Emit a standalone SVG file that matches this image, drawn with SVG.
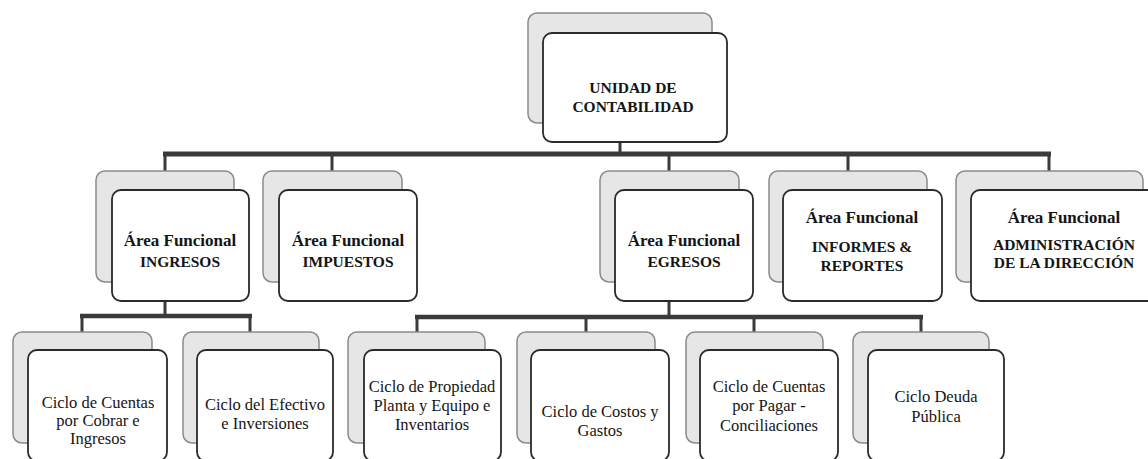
<svg xmlns="http://www.w3.org/2000/svg" width="1148" height="459" viewBox="0 0 1148 459">
<style>
.back{fill:#e6e6e6;stroke:#8a8a8a;stroke-width:1.5}
.front{fill:#ffffff;stroke:#2a2a2a;stroke-width:1.8}
.bar{fill:none;stroke:#3a3a3a;stroke-linecap:butt}
.t1{font-family:"Liberation Serif","Times New Roman",serif;font-weight:bold;font-size:15.5px;fill:#151515;text-anchor:middle}
.t2{font-family:"Liberation Serif","Times New Roman",serif;font-weight:bold;font-size:17px;fill:#151515;text-anchor:middle}
.t3{font-family:"Liberation Serif","Times New Roman",serif;font-size:16.5px;fill:#151515;text-anchor:middle}
</style>
<rect width="1148" height="459" fill="#ffffff"/>
<g id="connectors">
<path class="bar" stroke-width="3" d="M620,142V154M165,154V171M332,154V171M669,154V171M848,154V171M1049,154V171"/>
<path class="bar" stroke-width="5" d="M163,154H1051"/>
<path class="bar" stroke-width="3" d="M165,301V316M82,316V332M250,316V332"/>
<path class="bar" stroke-width="4.5" d="M80,316H252"/>
<path class="bar" stroke-width="3" d="M669,301V317M417,317V333M586,317V333M754,317V333M921,317V333"/>
<path class="bar" stroke-width="4.5" d="M415,317H923"/>
</g>
<g id="unidad">
<rect class="back" x="528" y="13" width="184" height="110" rx="9"/>
<rect class="front" x="543" y="33" width="184" height="109" rx="9"/>
<text class="t1" x="633" y="93">UNIDAD  DE</text>
<text class="t1" x="633" y="112">CONTABILIDAD</text>
</g>
<g id="ingresos">
<rect class="back" x="96" y="171" width="138" height="111" rx="9"/>
<rect class="front" x="112" y="190" width="137" height="111" rx="9"/>
<text class="t2" x="180" y="246">Área Funcional</text>
<text class="t1" x="180" y="267">INGRESOS</text>
</g>
<g id="impuestos">
<rect class="back" x="263" y="171" width="139" height="111" rx="9"/>
<rect class="front" x="279" y="190" width="138" height="111" rx="9"/>
<text class="t2" x="348" y="246">Área Funcional</text>
<text class="t1" x="348" y="267">IMPUESTOS</text>
</g>
<g id="egresos">
<rect class="back" x="600" y="171" width="139" height="111" rx="9"/>
<rect class="front" x="615" y="190" width="138" height="111" rx="9"/>
<text class="t2" x="684" y="246">Área Funcional</text>
<text class="t1" x="684" y="267">EGRESOS</text>
</g>
<g id="informes">
<rect class="back" x="769" y="171" width="158" height="111" rx="9"/>
<rect class="front" x="783" y="190" width="159" height="111" rx="9"/>
<text class="t2" x="862" y="223">Área Funcional</text>
<text class="t1" x="862" y="252">INFORMES &amp;</text>
<text class="t1" x="862" y="271">REPORTES</text>
</g>
<g id="administracion">
<rect class="back" x="956" y="171" width="187" height="111" rx="9"/>
<rect class="front" x="971" y="190" width="187" height="111" rx="9"/>
<text class="t2" x="1064" y="223">Área Funcional</text>
<text class="t1" x="1064" y="250">ADMINISTRACIÓN</text>
<text class="t1" x="1064" y="268">DE LA DIRECCIÓN</text>
</g>
<g id="ciclo-cobrar">
<rect class="back" x="13" y="332" width="139" height="111" rx="9"/>
<rect class="front" x="28" y="350" width="139" height="111" rx="9"/>
<text class="t3" x="98" y="408">Ciclo de Cuentas</text>
<text class="t3" x="98" y="426">por Cobrar e</text>
<text class="t3" x="98" y="444">Ingresos</text>
</g>
<g id="ciclo-efectivo">
<rect class="back" x="183" y="332" width="136" height="111" rx="9"/>
<rect class="front" x="197" y="350" width="136" height="111" rx="9"/>
<text class="t3" x="265" y="410">Ciclo del Efectivo</text>
<text class="t3" x="265" y="429">e Inversiones</text>
</g>
<g id="ciclo-propiedad">
<rect class="back" x="348" y="332" width="137" height="111" rx="9"/>
<rect class="front" x="364" y="350" width="137" height="111" rx="9"/>
<text class="t3" x="432" y="392">Ciclo de Propiedad</text>
<text class="t3" x="432" y="411">Planta y Equipo e</text>
<text class="t3" x="432" y="430">Inventarios</text>
</g>
<g id="ciclo-costos">
<rect class="back" x="517" y="332" width="138" height="111" rx="9"/>
<rect class="front" x="531" y="350" width="138" height="111" rx="9"/>
<text class="t3" x="600" y="417">Ciclo de Costos y</text>
<text class="t3" x="600" y="436">Gastos</text>
</g>
<g id="ciclo-pagar">
<rect class="back" x="686" y="332" width="137" height="111" rx="9"/>
<rect class="front" x="700" y="350" width="138" height="111" rx="9"/>
<text class="t3" x="769" y="392">Ciclo de Cuentas</text>
<text class="t3" x="769" y="411">por Pagar -</text>
<text class="t3" x="769" y="431">Conciliaciones</text>
</g>
<g id="ciclo-deuda">
<rect class="back" x="853" y="332" width="136" height="111" rx="9"/>
<rect class="front" x="868" y="350" width="136" height="111" rx="9"/>
<text class="t3" x="936" y="402">Ciclo Deuda</text>
<text class="t3" x="936" y="422">Pública</text>
</g>
</svg>
